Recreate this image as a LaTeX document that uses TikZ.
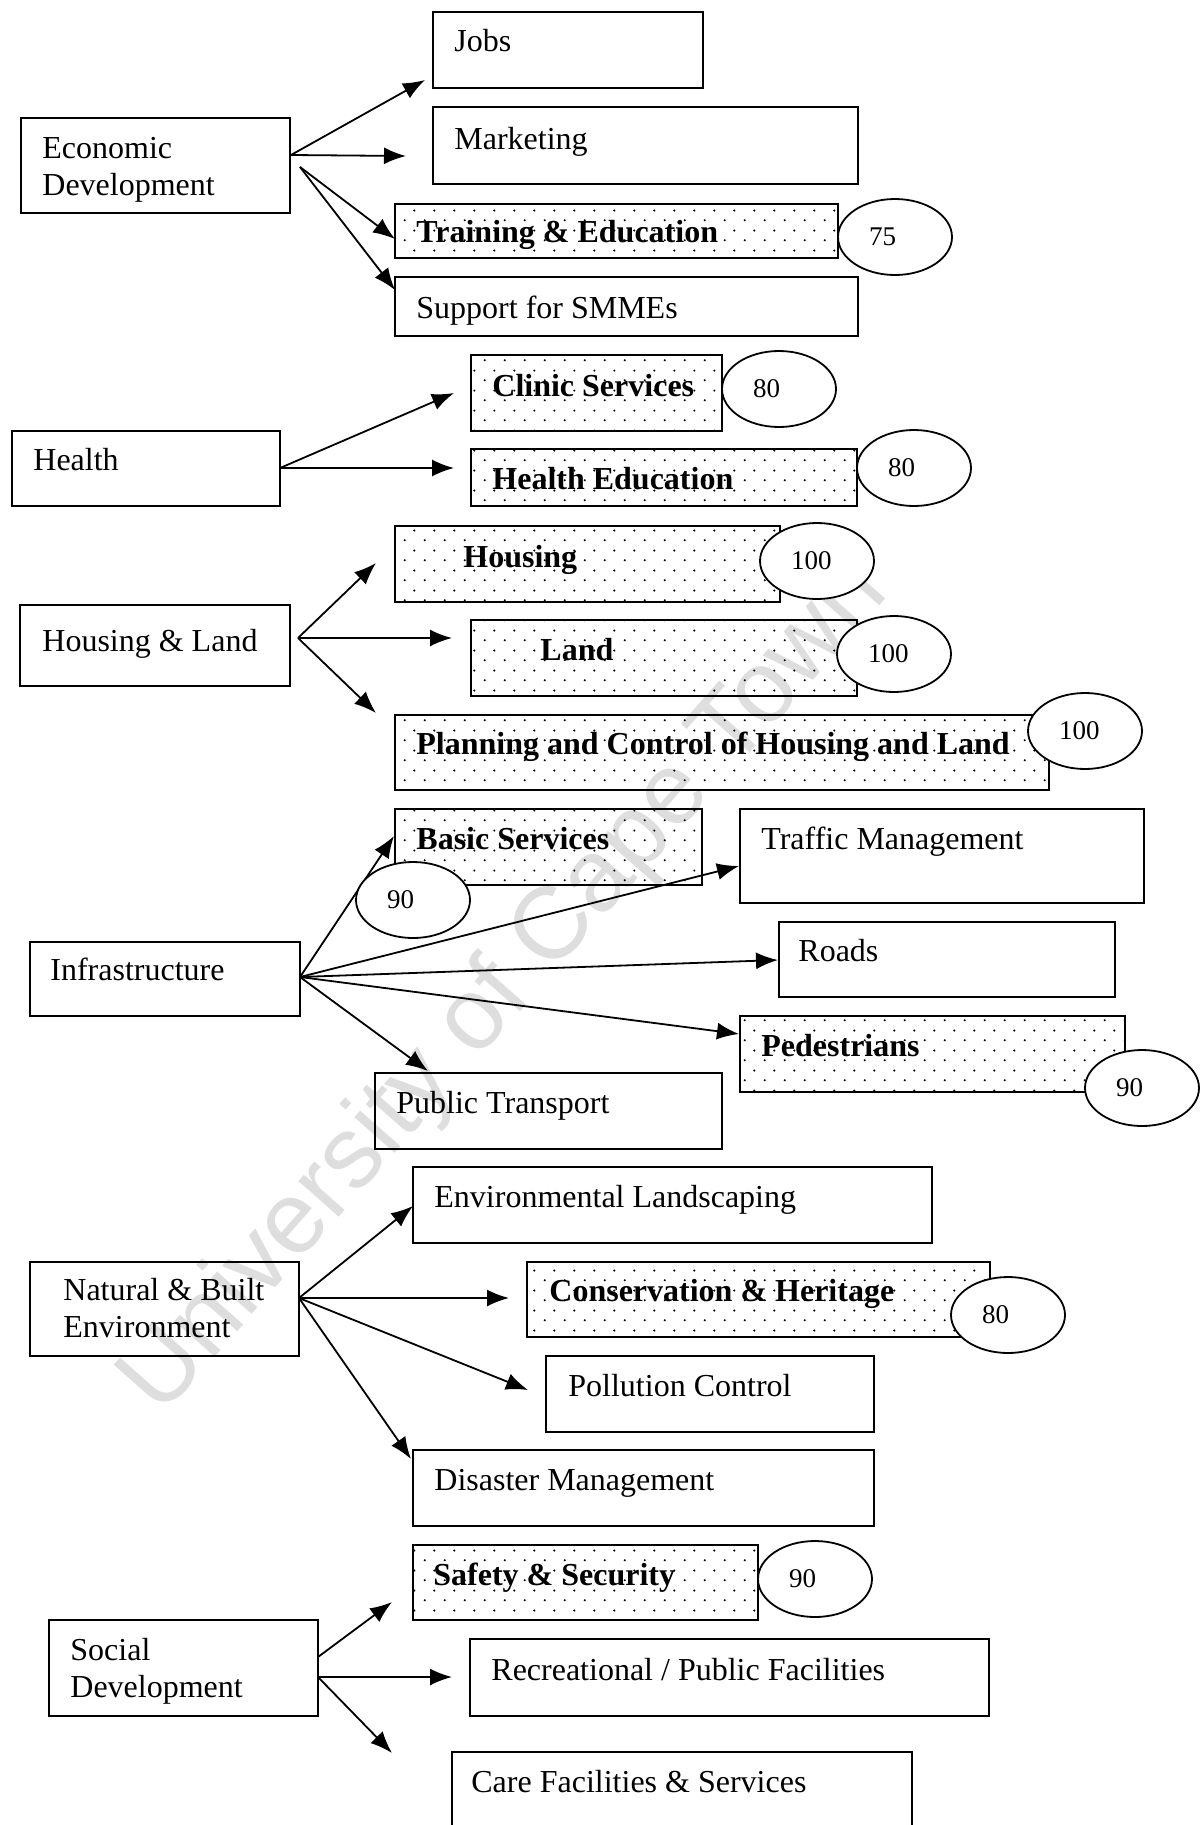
\documentclass[tikz,border=0pt]{standalone}
\usepackage{fontspec}
\setmainfont{Liberation Serif}
\newfontfamily\wmfont{Liberation Sans}
\usetikzlibrary{arrows.meta,shapes.geometric,patterns.meta}

\tikzdeclarepattern{
  name=sparsedots,
  type=uncolored,
  bottom left={(0pt,0pt)},
  top right={(10pt,10pt)},
  tile size={(10pt,10pt)},
  code={
    \tikzset{x=1pt,y=1pt}
    \fill (2.5,2.5) circle (0.6);
    \fill (7.5,7.5) circle (0.6);
  }
}

\newcommand{\mybox}[6][]{\node[boxst,#1,anchor=north west,minimum width={(#5-#3)*0.5pt},minimum height={(#6-#4)*0.5pt}] (#2) at (#3,#4) {};}

\tikzset{
  boxst/.style={draw, line width=1.1pt, inner sep=0pt, outer sep=0pt},
  dotbox/.style={pattern=sparsedots, pattern color=black},
  txt/.style={inner sep=0pt, anchor=base west, font=\fontsize{16}{18.5}\selectfont},
  btxt/.style={inner sep=0pt, anchor=base west, font=\fontsize{16}{18.5}\selectfont\bfseries},
  mtxt/.style={inner sep=0pt, anchor=north west, align=left, font=\fontsize{16}{18.5}\selectfont},
  num/.style={draw, ellipse, fill=white, line width=0.9pt, inner sep=0pt, minimum width=57pt, minimum height=38pt, text width=26pt, align=left, font=\fontsize{13.5}{15}\selectfont},
  arr/.style={line width=0.9pt, -{Latex[length=11pt,width=8.5pt]}},
}

\begin{document}
\begin{tikzpicture}[x=0.5pt,y=-0.5pt]
\useasboundingbox[fill=white] (0,0) rectangle (1200,1825);
\clip (0,0) rectangle (1200,1825);

% watermark
\node[rotate=48.5, text=black!13, inner sep=0pt, font=\wmfont\fontsize{51}{51}\selectfont] (wm) at (506,988) {University of Cape Town};

% ---------- boxes ----------
\mybox{econ}{21}{118}{290}{213}
\mybox{jobs}{433}{12}{703}{88}
\mybox{mkt}{433}{107}{858}{184}
\mybox[dotbox]{train}{395}{204}{838}{258}
\mybox{smme}{395}{277}{858}{336}

\mybox{health}{12}{431}{280}{506}
\mybox[dotbox]{clinic}{471}{355}{722}{431}
\mybox[dotbox]{hedu}{471}{449}{857}{506}

\mybox{hl}{20}{605}{290}{686}
\mybox[dotbox]{housing}{395}{526}{780}{602}
\mybox[dotbox]{land}{471}{620}{857}{696}
\mybox[dotbox]{plan}{395}{715}{1049}{790}

\mybox{infra}{30}{942}{300}{1016}
\mybox[dotbox]{basic}{395}{809}{702}{885}
\mybox{traffic}{740}{809}{1144}{903}
\mybox{roads}{779}{922}{1115}{997}
\mybox[dotbox]{ped}{740}{1016}{1125}{1092}
\mybox{pubtr}{375}{1073}{722}{1149}

\mybox{nbe}{30}{1262}{299}{1356}
\mybox{env}{413}{1167}{932}{1243}
\mybox[dotbox]{cons}{527}{1262}{990}{1337}
\mybox{poll}{546}{1356}{874}{1432}
\mybox{dis}{413}{1450}{874}{1526}

\mybox{social}{49}{1620}{318}{1716}
\mybox[dotbox]{safety}{413}{1545}{758}{1620}
\mybox{rec}{470}{1639}{989}{1716}
\mybox{care}{452}{1752}{912}{1870}

% ---------- arrow coordinates ----------
\coordinate (econS1) at (291,155);
\coordinate (econS2) at (300,167);
\coordinate (jobsA) at (425,80);
\coordinate (mktA) at (406,156);
\coordinate (trainA) at (395,239);
\coordinate (smmeA) at (395,290);

\coordinate (healthS) at (280,468);
\coordinate (clinicA) at (454,393);
\coordinate (heduA) at (454,468);

\coordinate (hlS) at (298,638);
\coordinate (housingA) at (376,563);
\coordinate (landA) at (452,638);
\coordinate (planA) at (376,713);

\coordinate (infraS) at (300,977);
\coordinate (basicA) at (394,836);
\coordinate (trafficA) at (739,866);
\coordinate (roadsA) at (778,960);
\coordinate (pedA) at (739,1034);
\coordinate (pubtrA) at (428,1071);

\coordinate (nbeS) at (299,1298);
\coordinate (envA) at (413,1206);
\coordinate (consA) at (509,1298);
\coordinate (pollA) at (528,1390);
\coordinate (disA) at (411,1459);

\coordinate (socialS1) at (318,1657);
\coordinate (socialS2) at (318,1677);
\coordinate (safetyA) at (392,1602);
\coordinate (recA) at (452,1677);
\coordinate (careA) at (392,1753);

% ---------- arrows ----------
\draw[arr] (econS1) -- (jobsA);
\draw[arr] (econS1) -- (mktA);
\draw[arr] (econS2) -- (trainA);
\draw[arr] (econS2) -- (smmeA);

\draw[arr] (healthS) -- (clinicA);
\draw[arr] (healthS) -- (heduA);

\draw[arr] (hlS) -- (housingA);
\draw[arr] (hlS) -- (landA);
\draw[arr] (hlS) -- (planA);

\draw[arr] (infraS) -- (basicA);
\draw[arr] (infraS) -- (trafficA);
\draw[arr] (infraS) -- (roadsA);
\draw[arr] (infraS) -- (pedA);
\draw[arr] (infraS) -- (pubtrA);

\draw[arr] (nbeS) -- (envA);
\draw[arr] (nbeS) -- (consA);
\draw[arr] (nbeS) -- (pollA);
\draw[arr] (nbeS) -- (disA);

\draw[arr] (socialS1) -- (safetyA);
\draw[arr] (socialS2) -- (recA);
\draw[arr] (socialS2) -- (careA);

% ---------- score ellipses ----------
\node[num] (e75) at (895,237) {75};
\node[num] (e80a) at (779,389) {80};
\node[num] (e80b) at (914,468) {80};
\node[num] (e100a) at (817,561) {100};
\node[num] (e100b) at (894,654) {100};
\node[num] (e100c) at (1085,731) {100};
\node[num] (e90a) at (413,900) {90};
\node[num] (e90b) at (1142,1088) {90};
\node[num] (e80c) at (1008,1315) {80};
\node[num] (e90c) at (815,1579) {90};

% ---------- texts ----------
\node[mtxt] (econT) at (42,137) {Economic\\Development};
\node[txt] (jobsT) at (454,52) {Jobs};
\node[txt] (mktT) at (454,149) {Marketing};
\node[btxt] (trainT) at (416,242) {Training \& Education};
\node[txt] (smmeT) at (416,318) {Support for SMMEs};

\node[txt] (healthT) at (33,470) {Health};
\node[btxt] (clinicT) at (492,396) {Clinic Services};
\node[btxt] (heduT) at (492,489) {Health Education};

\node[txt] (hlT) at (42,651) {Housing \& Land};
\node[btxt] (housingT) at (463,567) {Housing};
\node[btxt] (landT) at (540,660) {Land};
\node[btxt] (planT) at (416,754) {Planning and Control of Housing and Land};

\node[txt] (infraT) at (50,980) {Infrastructure};
\node[btxt] (basicT) at (416,849) {Basic Services};
\node[txt] (trafficT) at (761,849) {Traffic Management};
\node[txt] (roadsT) at (798,961) {Roads};
\node[btxt] (pedT) at (761,1056) {Pedestrians};
\node[txt] (pubtrT) at (396,1113) {Public Transport};

\node[mtxt] (nbeT) at (63,1278) {Natural \& Built\\Environment};
\node[txt] (envT) at (434,1207) {Environmental Landscaping};
\node[btxt] (consT) at (549,1301) {Conservation \& Heritage};
\node[txt] (pollT) at (568,1396) {Pollution Control};
\node[txt] (disT) at (434,1490) {Disaster Management};

\node[mtxt] (socialT) at (70,1638) {Social\\Development};
\node[btxt] (safetyT) at (433,1585) {Safety \& Security};
\node[txt] (recT) at (491,1680) {Recreational / Public Facilities};
\node[txt] (careT) at (471,1792) {Care Facilities \& Services};
\end{tikzpicture}
\end{document}
